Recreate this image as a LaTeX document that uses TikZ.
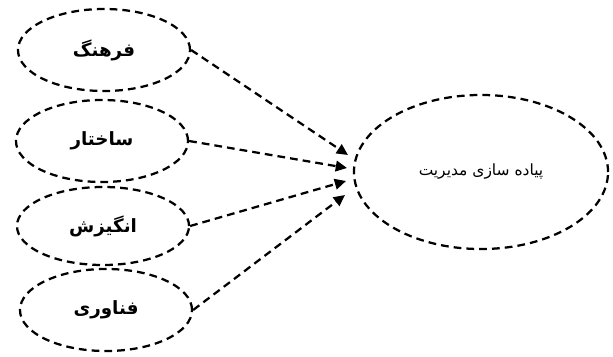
\documentclass[tikz,border=0pt]{standalone}
\usepackage{fontspec}
\usepackage{tikz}
\usetikzlibrary{shapes.geometric,arrows.meta,positioning}
\TeXXeTstate=1
\newfontfamily\arabicfont[Script=Arabic]{DejaVu Sans}
\newfontfamily\arabicbold[Script=Arabic]{DejaVu Sans Bold}
\tikzset{
  dashline/.style={line width=1.6pt, dash pattern=on 5.5pt off 3.6pt},
  factor/.style={draw, ellipse, dashline, minimum width=4.3cm, minimum height=2.05cm, font=\arabicbold\fontsize{13}{15}\selectfont},
  target/.style={draw, ellipse, dashline, minimum width=6.35cm, minimum height=3.85cm, font=\arabicfont\fontsize{11}{13}\selectfont},
  link/.style={dashline, -{Triangle[length=8pt, width=7.5pt]}}
}
\begin{document}
\begin{tikzpicture}[x=0.025cm, y=-0.025cm]
\useasboundingbox (0,0) rectangle (613,356);

\node[factor] (culture) at (104,50) {\beginR فرهنگ\endR};
\node[factor] (structure) at (102,141) {\beginR ساختار\endR};
\node[factor, minimum height=1.95cm] (motive) at (103,226) {\beginR انگیزش\endR};
\node[factor] (tech) at (106,310) {\beginR فناوری\endR};

\node[target] (impl) at (481,172) {\beginR پیاده سازی مدیریت\endR};

% free ends near the left edge of the target
\coordinate (t1) at (348,155);
\coordinate (t2) at (347,168);
\coordinate (t3) at (346,181);
\coordinate (t4) at (345,195);

\draw[link] (culture.east) -- (t1);
\draw[link] (structure.east) -- (t2);
\draw[link] (motive.east) -- (t3);
\draw[link] (tech.east) -- (t4);

\end{tikzpicture}
\end{document}
